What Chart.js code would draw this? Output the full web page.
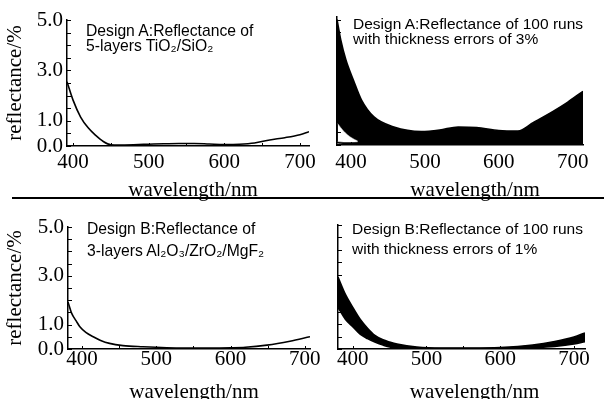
<!DOCTYPE html>
<html>
<head>
<meta charset="utf-8">
<script src="https://cdn.jsdelivr.net/npm/chart.js@4"></script>
<style>
body { margin: 0; background: #fff; }
#wrap { position: relative; width: 604px; height: 399px; overflow: hidden; background: #fff; }
canvas { position: absolute; left: 0; top: 0; }
.note { position: absolute; font-family: 'Liberation Sans', Arial, sans-serif; font-size: 15.7px; line-height: 15px; color: #000; white-space: nowrap; }
#rule { position: absolute; left: 12px; top: 197px; width: 592px; height: 2px; background: #000; }
</style>
</head>
<body>
<div id="wrap">
  <canvas id="panelA" width="604" height="399"></canvas>
  <canvas id="panelA3" width="604" height="399"></canvas>
  <canvas id="panelB" width="604" height="399"></canvas>
  <canvas id="panelB1" width="604" height="399"></canvas>
  <div id="rule"></div>
  <div class="note" style="left:86px;top:23px">Design A:Reflectance of</div>
  <div class="note" style="left:86px;top:38px">5-layers TiO₂/SiO₂</div>
  <div class="note" style="left:353px;top:16px;font-size:15.5px">Design A:Reflectance of 100 runs</div>
  <div class="note" style="left:353px;top:31px;font-size:15.5px">with thickness errors of 3%</div>
  <div class="note" style="left:87px;top:221px">Design B:Reflectance of</div>
  <div class="note" style="left:87px;top:243px">3-layers Al₂O₃/ZrO₂/MgF₂</div>
  <div class="note" style="left:352px;top:221px;font-size:15.5px">Design B:Reflectance of 100 runs</div>
  <div class="note" style="left:352px;top:241px;font-size:15.5px">with thickness errors of 1%</div>
</div>
<script>
// tick values
const xTicks = [400, 500, 600, 700];
const xTickMarks = [400, 450, 500, 550, 600, 650, 700];
const yTicks = [0, 0.5, 1, 1.5, 2, 2.5, 3, 3.5, 4, 4.5, 5];
const yLabelValues = [0, 1, 3, 5];
const yLabelTexts = ['0.0', '1.0', '3.0', '5.0'];

// Design A, 5 layers TiO2/SiO2
const wlA = [392, 400, 410, 420, 430, 440, 450, 460, 480, 500, 520, 540, 560, 580, 600, 620, 640, 660, 680, 700, 712];
const reflA = [2.55, 1.82, 1.15, 0.72, 0.42, 0.18, 0.05, 0.04, 0.05, 0.07, 0.09, 0.1, 0.1, 0.08, 0.06, 0.07, 0.12, 0.24, 0.33, 0.45, 0.57];

// Design A, 100 runs, 3% errors (envelope of the runs)
const wlA3 = [381, 386, 393, 403, 414, 431, 458, 495, 520, 545, 570, 600, 626, 647, 674, 693, 714];
const reflA3Upper = [5.0, 4.2, 3.4, 2.6, 1.8, 1.12, 0.72, 0.54, 0.6, 0.72, 0.7, 0.58, 0.56, 0.9, 1.35, 1.7, 2.14];
const reflA3Lower = [0.1, 0.08, 0.06, 0.04, 0.03, 0.02, 0.02, 0.02, 0.03, 0.04, 0.04, 0.03, 0.03, 0.03, 0.03, 0.03, 0.04];
// white wedge between runs near the lower left corner
const wlA3Gap = [382, 390, 400, 409];
const reflA3GapUpper = [0.85, 0.55, 0.3, 0.16];
const reflA3GapLower = [0.14, 0.12, 0.12, 0.13];

// Design B, 3 layers Al2O3/ZrO2/MgF2
const wlB = [381, 386, 392, 397, 405, 415, 425, 437, 455, 482, 514, 540, 570, 600, 620, 649, 680, 707];
const reflB = [1.93, 1.46, 1.15, 0.91, 0.68, 0.5, 0.35, 0.23, 0.14, 0.09, 0.05, 0.04, 0.04, 0.05, 0.07, 0.16, 0.32, 0.5];

// Design B, 100 runs, 1% errors (envelope of the runs)
const wlB1 = [380, 390, 400, 410, 420, 430, 441, 450, 460, 487, 520, 560, 600, 644, 674, 700, 715];
const reflB1Upper = [2.9, 2.2, 1.68, 1.2, 0.84, 0.55, 0.37, 0.28, 0.2, 0.08, 0.04, 0.04, 0.06, 0.16, 0.3, 0.48, 0.65];
const reflB1Lower = [1.68, 1.2, 0.9, 0.6, 0.42, 0.28, 0.16, 0.08, 0.05, 0.02, 0.02, 0.02, 0.02, 0.05, 0.1, 0.2, 0.3];

const serif = "'Liberation Serif', 'Times New Roman', serif";
Chart.defaults.font.family = serif;
Chart.defaults.color = '#000';

const pts = (xs, ys) => xs.map((x, i) => ({ x: x, y: ys[i] }));

// small ticks drawn inside the axes, like the printed figure
const inwardTicks = {
  id: 'inwardTicks',
  afterDraw(chart) {
    const { ctx, chartArea, scales } = chart;
    ctx.save();
    ctx.strokeStyle = '#000';
    ctx.lineWidth = 1;
    ctx.beginPath();
    yTicks.forEach(v => {
      const y = Math.round(scales.y.getPixelForValue(v)) + 0.5;
      ctx.moveTo(chartArea.left, y);
      ctx.lineTo(chartArea.left + 4, y);
    });
    xTickMarks.forEach(v => {
      const x = Math.round(scales.x.getPixelForValue(v)) + 0.5;
      ctx.moveTo(x, chartArea.bottom);
      ctx.lineTo(x, chartArea.bottom - 3);
    });
    ctx.stroke();
    ctx.restore();
  }
};

// x axis caption, set a little right of the axis centre as in the scan
const xCaption = {
  id: 'xCaption',
  afterDraw(chart, args, opts) {
    const { ctx, scales } = chart;
    ctx.save();
    ctx.font = '21px ' + serif;
    ctx.fillStyle = '#000';
    ctx.textAlign = 'center';
    ctx.textBaseline = 'alphabetic';
    ctx.fillText('wavelength/nm', (scales.x.left + scales.x.right) / 2 + opts.dx, opts.baseline);
    ctx.restore();
  }
};

function panelOptions(p) {
  return {
    responsive: false,
    animation: false,
    events: [],
    layout: { padding: p.pad },
    plugins: {
      legend: { display: false },
      tooltip: { enabled: false },
      xCaption: { dx: p.capDx, baseline: p.capY }
    },
    elements: {
      point: { radius: 0 },
      line: { borderWidth: 1.6, borderColor: '#000', cubicInterpolationMode: 'monotone' }
    },
    scales: {
      x: {
        type: 'linear',
        min: p.xMin,
        max: p.xMax,
        afterBuildTicks: s => { s.ticks = xTicks.map(v => ({ value: v })); },
        afterFit: s => { s.height = p.xH; },
        grid: { display: false, drawTicks: false },
        border: { color: '#000', width: 1.5 },
        ticks: { padding: p.xPad, autoSkip: false, maxRotation: 0, font: { size: 21 }, callback: v => String(v) }
      },
      y: {
        type: 'linear',
        min: 0,
        max: p.yMax,
        afterBuildTicks: s => { s.ticks = yTicks.map(v => ({ value: v })); },
        afterFit: s => { s.width = p.yW; },
        grid: { display: false, drawTicks: false },
        border: { color: '#000', width: 1.5 },
        ticks: {
          display: p.yLabels, padding: 4, autoSkip: false, font: { size: 21 },
          callback: v => { const i = yLabelValues.indexOf(v); return i < 0 ? '' : yLabelTexts[i]; }
        },
        title: { display: p.yLabels, text: 'reflectance/%', font: { size: 21 }, padding: { top: 3 } }
      }
    }
  };
}

const panelA = new Chart(document.getElementById('panelA'), {
  type: 'line',
  data: { datasets: [{ data: pts(wlA, reflA), fill: false }] },
  options: panelOptions({ pad: { left: 0, top: 20, right: 295, bottom: 196 }, xMin: 392, xMax: 712, yMax: 5, xH: 57, yW: 67, xPad: 4, capDx: 5, capY: 196, yLabels: true }),
  plugins: [inwardTicks, xCaption]
});

// band datasets get order 1 so the white wedge (order 0) is painted over them
const panelA3 = new Chart(document.getElementById('panelA3'), {
  type: 'line',
  data: { datasets: [
    { data: pts(wlA3, reflA3Lower), fill: false, order: 1 },
    { data: pts(wlA3, reflA3Upper), fill: '-1', backgroundColor: '#000', order: 1 },
    { data: pts(wlA3Gap, reflA3GapLower), fill: false, borderColor: '#fff', borderWidth: 0.5, order: 0 },
    { data: pts(wlA3Gap, reflA3GapUpper), fill: '-1', backgroundColor: '#fff', borderColor: '#fff', borderWidth: 0.5, order: 0 }
  ] },
  options: panelOptions({ pad: { left: 0, top: 17, right: 21, bottom: 196 }, xMin: 381, xMax: 714, yMax: 5.1, xH: 58, yW: 337, xPad: 5, capDx: 15, capY: 196, yLabels: false }),
  plugins: [inwardTicks, xCaption]
});

const panelB = new Chart(document.getElementById('panelB'), {
  type: 'line',
  data: { datasets: [{ data: pts(wlB, reflB), fill: false }] },
  options: panelOptions({ pad: { left: 0, top: 227, right: 294, bottom: 0 }, xMin: 381, xMax: 707, yMax: 5, xH: 50, yW: 68, xPad: -2, capDx: 5, capY: 398, yLabels: true }),
  plugins: [inwardTicks, xCaption]
});

const panelB1 = new Chart(document.getElementById('panelB1'), {
  type: 'line',
  data: { datasets: [
    { data: pts(wlB1, reflB1Lower), fill: false },
    { data: pts(wlB1, reflB1Upper), fill: '-1', backgroundColor: '#000' }
  ] },
  options: panelOptions({ pad: { left: 0, top: 225, right: 19, bottom: 0 }, xMin: 380, xMax: 715, yMax: 5, xH: 50, yW: 338, xPad: -2, capDx: 13, capY: 398, yLabels: false }),
  plugins: [inwardTicks, xCaption]
});
</script>
</body>
</html>
